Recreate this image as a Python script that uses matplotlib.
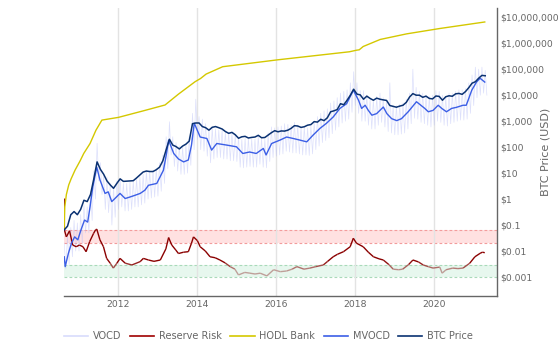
import numpy as np
import matplotlib
matplotlib.use("Agg")
import matplotlib.pyplot as plt
from matplotlib.collections import LineCollection
from matplotlib.colors import LinearSegmentedColormap, Normalize
from matplotlib.lines import Line2D
from matplotlib.ticker import FixedLocator, NullLocator

plt.rcParams['font.family'] = ['DejaVu Sans']

# ---------------- data ----------------
# monthly BTC price, Aug 2010 .. Apr 2021 (USD)
btc_price = [
    0.065, 0.09, 0.25, 0.33, 0.25,
    0.4, 0.9, 0.8, 1.5, 6, 27, 14, 9, 5, 3.5, 2.6, 4,
    6, 4.8, 4.9, 5, 5.1, 6.5, 8.5, 11, 12, 11.5, 11.5, 13.5,
    17, 30, 80, 200, 120, 105, 85, 110, 130, 170, 800, 850,
    850, 620, 560, 450, 580, 620, 560, 500, 400, 340, 370, 300,
    220, 250, 260, 225, 237, 245, 285, 230, 235, 290, 360, 430,
    390, 420, 415, 450, 530, 670, 650, 575, 610, 700, 740, 960,
    920, 1180, 1050, 1350, 2300, 2500, 2800, 4700, 4300, 6400, 10000, 17000,
    11000, 10300, 7000, 9200, 7500, 6400, 7700, 7000, 6600, 6300, 4000, 3700,
    3450, 3800, 4100, 5300, 8500, 11500, 10000, 10000, 8300, 9200, 7500, 7200,
    9300, 9000, 6400, 8700, 9500, 9100, 11300, 11700, 10800, 13800, 19500, 29000,
    33000, 45000, 58000, 56000]

# monthly VOCD swing (high / low within each month)
vocd_hi = [
    0.02, 0.04, 0.08, 0.15, 0.12,
    0.25, 0.6, 0.5, 2, 12, 140, 25, 8, 7, 4, 3, 5,
    6, 4, 4, 4.5, 5, 6, 7, 9, 12, 12, 13, 15,
    25, 50, 250, 950, 250, 150, 110, 100, 130, 250, 2000, 7000,
    1500, 1200, 800, 500, 600, 500, 450, 450, 400, 380, 350, 300,
    250, 200, 220, 230, 210, 200, 280, 220, 200, 350, 600, 550,
    600, 650, 800, 750, 700, 900, 700, 600, 600, 550, 700, 1000,
    1500, 2000, 2500, 3000, 5000, 6000, 8000, 12000, 14000, 16000, 30000, 80000,
    30000, 15000, 15000, 10000, 7000, 7000, 9000, 12000, 8000, 6000, 30000, 4000,
    4000, 4500, 5000, 7000, 12000, 100000, 20000, 14000, 12000, 10000, 9000, 10000,
    15000, 14000, 10000, 9000, 12000, 12000, 14000, 16000, 16000, 18000, 30000, 60000,
    120000, 100000, 120000, 90000]
vocd_lo = [
    0.002, 0.003, 0.006, 0.01, 0.01,
    0.02, 0.05, 0.05, 0.15, 1, 5, 1.5, 0.4, 0.3, 0.1, 0.2, 0.4,
    0.5, 0.35, 0.35, 0.4, 0.5, 0.5, 0.6, 0.7, 1, 1.1, 1.2, 1.3,
    2, 4, 15, 50, 18, 12, 9, 9, 10, 20, 80, 200,
    80, 70, 45, 25, 35, 40, 40, 35, 35, 30, 30, 28,
    17, 16, 17, 18, 17, 17, 22, 17, 16, 28, 40, 45,
    50, 55, 70, 65, 60, 60, 55, 50, 50, 48, 55, 80,
    110, 150, 180, 230, 330, 450, 600, 850, 1000, 1200, 2200, 4000,
    2000, 1000, 1000, 700, 500, 500, 700, 900, 600, 400, 350, 300,
    300, 320, 350, 500, 800, 1300, 1200, 900, 800, 700, 600, 700,
    1000, 900, 700, 650, 800, 900, 1000, 1100, 1100, 1200, 2000, 4000,
    8000, 10000, 12000, 10000]

# MVOCD (decimal year, USD)
mvocd_t = [2010.625, 2010.65, 2010.73, 2010.81, 2010.89, 2010.97, 2011.05, 2011.14,
           2011.22, 2011.28, 2011.35, 2011.45, 2011.53, 2011.66, 2011.74, 2011.83,
           2011.91, 2012.04, 2012.17, 2012.29, 2012.42, 2012.55, 2012.67, 2012.76,
           2012.97, 2013.14, 2013.22, 2013.27, 2013.40, 2013.52, 2013.65, 2013.77,
           2013.85, 2013.92, 2014.07, 2014.24, 2014.36, 2014.49, 2014.74, 2014.99,
           2015.15, 2015.32, 2015.49, 2015.67, 2015.74, 2015.88, 2016.09, 2016.26,
           2016.43, 2016.60, 2016.77, 2016.93, 2017.10, 2017.27, 2017.44, 2017.61,
           2017.78, 2017.95, 2018.08, 2018.16, 2018.25, 2018.33, 2018.42, 2018.54,
           2018.71, 2018.80, 2018.92, 2019.05, 2019.17, 2019.34, 2019.55, 2019.76,
           2019.85, 2019.97, 2020.10, 2020.19, 2020.31, 2020.44, 2020.56, 2020.73,
           2020.81, 2020.86, 2020.95, 2021.07, 2021.16, 2021.28]
mvocd_v = [0.006, 0.0025, 0.008, 0.02, 0.035, 0.027, 0.065, 0.155,
           0.13, 0.5, 3, 17, 5.5, 1.65, 1.9, 0.8,
           1.05, 1.65, 1.05, 1.2, 1.4, 1.65, 2.2, 3.4,
           4, 13, 60, 186, 57, 35, 27, 32,
           120, 830, 245, 215, 77, 138, 120, 103,
           57, 65, 57, 89, 50, 138, 186, 245,
           215, 186, 160, 290, 520, 830, 1450, 3100,
           4700, 15500, 6500, 3100, 4100, 2600, 1700, 1950,
           3500, 1950, 1250, 1050, 1250, 2300, 5600, 3100,
           2300, 2600, 4100, 3100, 2300, 3100, 3400, 4100,
           4100, 6500, 15500, 32000, 45000, 32000]

# HODL Bank (decimal year, USD)
hodl_t = [2010.625, 2010.64, 2010.68, 2010.74, 2010.80, 2010.90, 2011.03, 2011.12,
          2011.28, 2011.43, 2011.58, 2012.00, 2012.63, 2013.18, 2013.52, 2013.94,
          2014.08, 2014.22, 2014.64, 2016.03, 2017.85, 2018.03, 2018.10, 2018.20,
          2018.63, 2019.30, 2020.14, 2021.28]
hodl_v = [0.07, 0.5, 1.5, 3.5, 6, 13, 30, 57,
          138, 450, 1100, 1400, 2500, 4200, 11000, 33000,
          44000, 65000, 125000, 230000, 470000, 540000, 560000, 750000,
          1400000, 2300000, 3700000, 6600000]

# Reserve Risk (decimal year, value)
rr_t = [2010.625, 2010.63, 2010.68, 2010.76, 2010.84, 2010.93, 2011.01, 2011.10, 2011.18,
        2011.27, 2011.37, 2011.42, 2011.45, 2011.53, 2011.62, 2011.70, 2011.79, 2011.87,
        2011.96, 2012.04, 2012.17, 2012.34, 2012.55, 2012.63, 2012.76, 2012.90, 2013.06,
        2013.20, 2013.27, 2013.35, 2013.45, 2013.52, 2013.65, 2013.77, 2013.85, 2013.90,
        2014.00, 2014.07, 2014.20, 2014.32, 2014.45, 2014.57, 2014.70, 2014.83, 2014.95,
        2015.04, 2015.20, 2015.33, 2015.46, 2015.59, 2015.76, 2015.93, 2016.10, 2016.26,
        2016.40, 2016.52, 2016.70, 2016.85, 2017.00, 2017.19, 2017.30, 2017.44, 2017.55,
        2017.70, 2017.87, 2017.95, 2018.03, 2018.20, 2018.33, 2018.46, 2018.60, 2018.71,
        2018.85, 2018.96, 2019.10, 2019.20, 2019.35, 2019.46, 2019.60, 2019.72, 2019.85,
        2019.97, 2020.14, 2020.20, 2020.30, 2020.47, 2020.60, 2020.73, 2020.90, 2021.03,
        2021.16, 2021.22, 2021.28]
rr_v = [1.05, 0.065, 0.035, 0.06, 0.017, 0.0146, 0.017, 0.0146, 0.0094,
        0.023, 0.048, 0.065, 0.07, 0.027, 0.0146, 0.0052, 0.0034, 0.0022,
        0.0034, 0.0052, 0.0034, 0.0029, 0.0039, 0.0052, 0.0045, 0.004, 0.0045,
        0.012, 0.033, 0.017, 0.011, 0.008, 0.009, 0.0094, 0.02, 0.035,
        0.025, 0.0146, 0.01, 0.006, 0.0055, 0.0045, 0.0035, 0.0025, 0.002,
        0.0012, 0.0015, 0.0014, 0.0013, 0.0014, 0.0011, 0.0019, 0.0016, 0.0017,
        0.002, 0.0025, 0.002, 0.0022, 0.0025, 0.0029, 0.004, 0.006, 0.0075,
        0.0094, 0.0146, 0.031, 0.02, 0.0146, 0.009, 0.006, 0.005, 0.0045,
        0.003, 0.002, 0.0019, 0.002, 0.003, 0.0045, 0.0038, 0.0029, 0.0025,
        0.0022, 0.0024, 0.0014, 0.0019, 0.0022, 0.0021, 0.0022, 0.0034, 0.006,
        0.0081, 0.009, 0.0086]

sell_zone = (0.02, 0.065)
buy_zone = (0.001, 0.0028)

year_ticks = [2012, 2014, 2016, 2018, 2020]
y_ticks = [1e-3, 1e-2, 1e-1, 1, 10, 100, 1e3, 1e4, 1e5, 1e6, 1e7]
y_labels = ['$0.001', '$0.01', '$0.1', '$1', '$10', '$100', '$1,000',
            '$10,000', '$100,000', '$1,000,000', '$10,000,000']

# ---------------- plot ----------------
W, H = 560, 360
fig = plt.figure(figsize=(W / 100, H / 100), dpi=100)
ax = fig.add_axes([64 / W, 64 / H, 433 / W, 288 / H])
ax.set_yscale('log')
ax.set_xlim(2010.62, 2021.59)
ax.set_ylim(1.85e-4, 2.28e7)

month_t = 2010.625 + np.arange(len(btc_price)) / 12.0

# zones
ax.axhspan(*sell_zone, color='#ffe1e1', zorder=0, lw=0)
ax.axhspan(*buy_zone, color='#e7f7ee', zorder=0, lw=0)
for v in sell_zone:
    ax.axhline(v, color='#f39c9c', lw=0.8, ls=(0, (2.5, 2)), zorder=0.5)
for v in buy_zone:
    ax.axhline(v, color='#a9dab9', lw=0.8, ls=(0, (2.5, 2)), zorder=0.5)

# VOCD zigzag
vt = np.empty(2 * len(month_t))
vv = np.empty(2 * len(month_t))
vt[0::2] = month_t
vt[1::2] = month_t + 1 / 24.0
vv[0::2] = vocd_hi
vv[1::2] = vocd_lo
ax.plot(vt, vv, color='#b4bbf7', lw=0.5, alpha=0.45, zorder=1)

# Reserve Risk gradient
pts = np.column_stack([rr_t, rr_v])
segs = np.stack([pts[:-1], pts[1:]], axis=1)
mid = np.log10(np.sqrt(np.array(rr_v[:-1]) * np.array(rr_v[1:])))
cmap = LinearSegmentedColormap.from_list('rr', ['#bf9f99', '#8b0000'])
lc = LineCollection(segs, cmap=cmap, norm=Normalize(-2.75, -2.4), lw=1.0, zorder=2)
lc.set_array(mid)
ax.add_collection(lc)

ax.plot(hodl_t, hodl_v, color='#d4c800', lw=1.0, zorder=3)
ax.plot(mvocd_t, mvocd_v, color='#3c5fe6', lw=1.0, zorder=4)
ax.plot(month_t, btc_price, color='#0b3272', lw=1.1, zorder=5)

# axes styling
ax.yaxis.tick_right()
ax.yaxis.set_major_locator(FixedLocator(y_ticks))
ax.yaxis.set_minor_locator(NullLocator())
ax.set_yticklabels(y_labels)
ax.xaxis.set_major_locator(FixedLocator(year_ticks))
ax.xaxis.set_minor_locator(NullLocator())
ax.set_xticklabels([str(y) for y in year_ticks])
ax.tick_params(axis='both', length=0, labelsize=6.7, labelcolor='#666666')
ax.tick_params(axis='y', pad=2)
ax.tick_params(axis='x', pad=3)
ax.grid(axis='x', color='#e3e3e3', lw=1.0, zorder=0)
ax.set_axisbelow(True)
for s in ['left', 'top']:
    ax.spines[s].set_visible(False)
for s in ['right', 'bottom']:
    ax.spines[s].set_color('#666666')
    ax.spines[s].set_linewidth(1.0)

ax.yaxis.set_label_position('right')
ax.set_ylabel('BTC Price (USD)', fontsize=8, color='#666666', rotation=90)
ax.yaxis.set_label_coords((540 - 64) / 433, 0.5)

handles = [Line2D([], [], color='#d8dcfc', lw=1.2),
           Line2D([], [], color='#a00000', lw=1.2),
           Line2D([], [], color='#d4c800', lw=1.2),
           Line2D([], [], color='#3c5fe6', lw=1.2),
           Line2D([], [], color='#0b3272', lw=1.2)]
labels = ['VOCD', 'Reserve Risk', 'HODL Bank', 'MVOCD', 'BTC Price']
fig.legend(handles, labels, loc='center', bbox_to_anchor=(268.5 / W, 1 - 336 / H),
           ncol=5, frameon=False, fontsize=7, labelcolor='#666666',
           handlelength=2.5, handletextpad=0.5, columnspacing=0.85)

fig.savefig('out.png', dpi=100)
